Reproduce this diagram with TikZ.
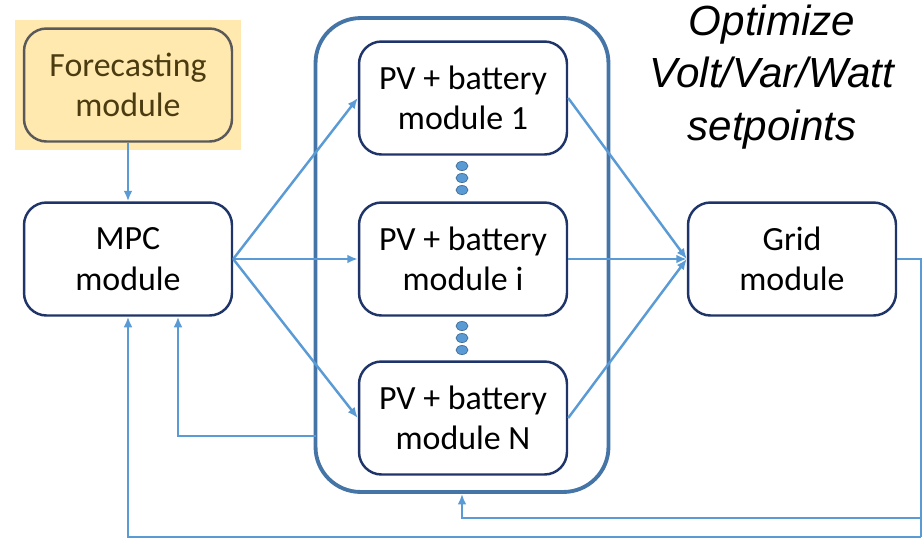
\documentclass[tikz,border=0pt]{standalone}
\usepackage{fontspec}
\setmainfont{Carlito}
\newfontfamily\arialfont{Liberation Sans}
\usetikzlibrary{arrows.meta,shapes.geometric}

\definecolor{arrowblue}{HTML}{5B9BD5}
\definecolor{boxnavy}{HTML}{1F3468}
\definecolor{groupblue}{HTML}{4575A6}
\definecolor{fcyellow}{HTML}{FFE9AF}
\definecolor{fcborder}{HTML}{595959}
\definecolor{fctext}{HTML}{4A3C10}

\begin{document}
\begin{tikzpicture}[>={Latex[length=6pt,width=5pt]},x=0.02cm,y=-0.02cm,
  module/.style={rectangle,rounded corners=0.45cm,draw=boxnavy,line width=1.4pt,fill=white,
    minimum width=4.16cm,minimum height=2.26cm,align=center,
    font=\fontsize{19.3}{23}\selectfont},
  link/.style={draw=arrowblue,line width=1.4pt,->},
  dot/.style={ellipse,draw=arrowblue!70!black,line width=0.4pt,fill=arrowblue,
    minimum width=0.24cm,minimum height=0.18cm,inner sep=0pt}]

\useasboundingbox (0,0) rectangle (923,539);

% forecasting module on its yellow patch
\fill[fcyellow] (15,20) rectangle (241,150);
\node(fc) at (128,85)[module,draw=fcborder,fill=fcyellow,text=fctext] {Forecasting\\module};
\node(mpc) at (128,259)[module] {MPC\\module};

% group of PV + battery modules
\node(grp) at (462,255)[rectangle,rounded corners=0.9cm,draw=groupblue,line width=2.2pt,
  minimum width=5.86cm,minimum height=9.48cm] {};
\node(pv1) at (463,98)[module] {PV + battery\\module 1};
\node(pvi) at (463,259)[module] {PV + battery\\module i};
\node(pvN) at (463,418)[module] {PV + battery\\module N};
\node(d1) at (462,166)[dot] {};
\node(d2) at (462,178)[dot] {};
\node(d3) at (462,190)[dot] {};
\node(d4) at (462,326)[dot] {};
\node(d5) at (462,338)[dot] {};
\node(d6) at (462,350)[dot] {};

\node(grid) at (792,259)[module] {Grid\\module};
\node(opt) at (772,77)[align=center,font=\arialfont\itshape\fontsize{24}{30}\selectfont]
  {Optimize\\Volt/Var/Watt\\setpoints};

\coordinate(fb) at (316,436);
\coordinate(c1) at (921,259);
\coordinate(c2) at (921,518);
\coordinate(c3) at (921,537);

\draw[link] (fc) -- (mpc);
\draw[link] (mpc.east) -- (pv1.west);
\draw[link] (mpc.east) -- (pvi.west);
\draw[link] (mpc.east) -- (pvN.west);
\draw[link] (pv1.east) -- (grid.west);
\draw[link] (pvi.east) -- (grid.west);
\draw[link] (pvN.east) -- (grid.west);
\draw[link] (fb) -| ([xshift=1cm]mpc.south);
\draw[link,-] (grid.east) -- (c1) -- (c3);
\draw[link] (c2) -| (grp.south);
\draw[link] (c3) -| (mpc.south);

\end{tikzpicture}
\end{document}
